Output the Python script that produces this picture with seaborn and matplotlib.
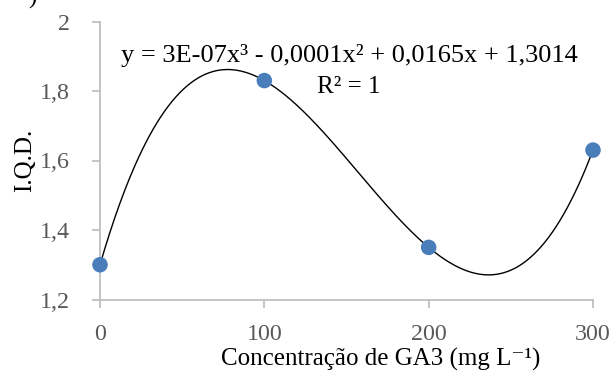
import numpy as np
import pandas as pd
import matplotlib
matplotlib.use("Agg")
import matplotlib.pyplot as plt
import seaborn as sns

# Data
concentration = [0, 100, 200, 300]
iqd = [1.30, 1.83, 1.35, 1.63]
x_ticks = [0, 100, 200, 300]
x_tick_labels = ["0", "100", "200", "300"]
y_ticks = [1.2, 1.4, 1.6, 1.8, 2.0]
y_tick_labels = ["1,2", "1,4", "1,6", "1,8", "2"]
equation_text = "y = 3E-07x³ - 0,0001x² + 0,0165x + 1,3014"
r2_text = "R² = 1"
x_label = "Concentração de GA3 (mg L⁻¹)"
y_label = "I.Q.D."

sns.set_style("ticks")
plt.rcParams["font.family"] = ["Liberation Serif", "DejaVu Serif"]

TICK_FS = 17.3
LABEL_FS = 18

df = pd.DataFrame({"conc": concentration, "iqd": iqd})

fig = plt.figure(figsize=(6.15, 3.71), dpi=100)
ax = fig.add_axes([100 / 615, 1 - 299.5 / 371, 493 / 615, 278 / 371])

# Cubic trend line through the data (as the spreadsheet trendline)
coef = np.polyfit(df["conc"], df["iqd"], 3)
xs = np.linspace(min(concentration), max(concentration), 400)
ax.plot(xs, np.polyval(coef, xs), color="black", lw=1.0, zorder=2)

sns.scatterplot(data=df, x="conc", y="iqd", ax=ax, s=125, color="#4A7EBB",
                edgecolor="none", zorder=3, clip_on=False, legend=False)

ax.set_xlim(0, 300)
ax.set_ylim(1.2, 2.0)
ax.set_xticks(x_ticks)
ax.set_xticklabels(x_tick_labels)
ax.set_yticks(y_ticks)
ax.set_yticklabels(y_tick_labels)

gray = "#BFBFBF"
for side in ["top", "right"]:
    ax.spines[side].set_visible(False)
for side in ["left", "bottom"]:
    ax.spines[side].set_color(gray)
    ax.spines[side].set_linewidth(1.3)
ax.tick_params(axis="both", colors=gray, length=5.5, width=1.3,
               labelsize=TICK_FS, labelcolor="#595959")
ax.tick_params(axis="y", pad=16)
ax.tick_params(axis="x", pad=12)

ax.set_xlabel(x_label, fontsize=LABEL_FS, color="black")
ax.set_ylabel(y_label, fontsize=LABEL_FS, color="black")
ax.xaxis.label.set_va("baseline")
ax.xaxis.set_label_coords((381 - 100) / 493, (299.5 - 366) / 278)
ax.yaxis.set_label_coords((36 - 100) / 493, 0.5)

ax.text((349 - 100) / 493, 1 - (62 - 21.7) / 278, equation_text,
        transform=ax.transAxes, ha="center", va="baseline", fontsize=19,
        color="black")
ax.text((349 - 100) / 493, 1 - (93 - 21.7) / 278, r2_text,
        transform=ax.transAxes, ha="center", va="baseline", fontsize=LABEL_FS,
        color="black")

fig.text(32 / 615, 1 - 4 / 371, ")", fontsize=LABEL_FS, ha="center",
         va="baseline", color="black")

fig.savefig("out.png", dpi=100)
